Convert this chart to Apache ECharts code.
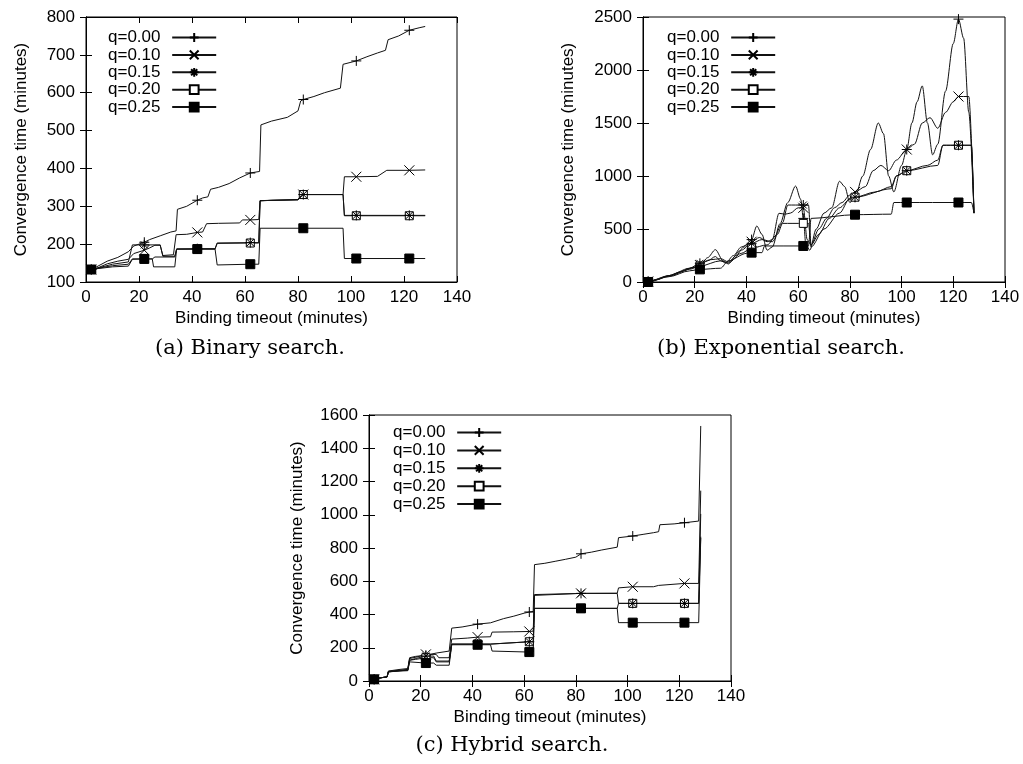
<!DOCTYPE html>
<html>
<head>
<meta charset="utf-8">
<script src="https://cdn.jsdelivr.net/npm/echarts@6/dist/echarts.min.js"></script>
<style>
  html, body { margin: 0; padding: 0; background: #fff; }
  #chart { width: 1023px; height: 764px; }
</style>
</head>
<body>
<div id="chart"></div>
<script>
// legend names, one per q value
var qNames = ['q=0.00', 'q=0.10', 'q=0.15', 'q=0.20', 'q=0.25'];
// points that carry a marker (every 20 minutes, from 2)
var markX = [2, 22, 42, 62, 82, 102, 122];

// (a) Binary search  [binding timeout, convergence time]
var binQ000 = [[0,130],[2,133],[4,140],[8,155],[12,165],[16,180],[18,195],[20,200],[22,205],[24,212],[28,222],[32,232],[34,235],[34.5,292],[38,300],[42,316],[44,322],[46,325],[47,345],[50,350],[54,360],[58,375],[62,388],[65.5,392],[66,515],[70,525],[76,535],[80,552],[81,578],[82,582],[86,590],[90,600],[96,612],[97,675],[102,684],[106,695],[110,705],[113,712],[114,740],[118,750],[122,765],[126,772],[128,775]];
var binQ010 = [[0,133],[2,133],[4,136],[8,148],[12,155],[16,160],[18,175],[22,184],[24,190],[26,197],[28,197],[29,170],[33,172],[34,225],[38,226],[42,231],[44,232],[45.5,254],[50,255],[58,256],[59,264],[62,264],[65.2,265],[65.7,314],[70,316],[80,318],[81.5,331],[82,331],[90,331],[97,331],[97.5,378],[102,378],[110,379],[113.5,395],[122,395],[128,396]];
var binQ015 = [[0,133],[2,133],[5,138],[10,147],[16,153],[17.5,198],[22,198],[28,198],[29,168],[33.5,168],[34.2,187],[42,188],[48.7,188],[49.5,203],[62,204],[65.2,204],[65.7,315],[80,317],[81.5,331],[82,331],[97,331],[97.5,276],[102,276],[122,276],[128,276]];
var binQ020 = [[0,133],[2,133],[5,137],[10,143],[16,147],[17.5,161],[22,161],[25,161],[26,166],[33.5,166],[34.2,187],[42,187],[48.7,187],[49.5,202],[62,203],[65.2,203],[65.7,315],[80,317],[81.5,331],[82,331],[97,331],[97.5,275],[102,275],[122,275],[128,275]];
var binQ025 = [[0,133],[2,133],[4,135],[10,140],[16,142],[17.5,160],[22,161],[25,161],[25.5,140],[33.5,140],[34.2,187],[42,187],[48.7,187],[49.5,145],[62,147],[65.2,147],[65.7,242],[82,242],[97,242],[97.5,162],[102,162],[122,162],[128,162]];

// (b) Exponential search
var expQ000 = [[0,0],[2,5],[5,20],[10,60],[14,90],[18,130],[22,150],[25,230],[28,305],[31,200],[33,170],[36,250],[39,330],[42,400],[44,528],[46,450],[48,300],[50,330],[53,550],[56,750],[59,905],[61,780],[62,600],[63,350],[64.5,300],[67,500],[70,650],[73,700],[76,950],[78,900],[80,750],[82,800],[85,1000],[88,1250],[91,1500],[93,1400],[95,1000],[97,850],[100,1100],[102,1250],[104,1500],[106,1700],[108,1850],[110,1500],[112,1200],[114,1300],[117,1800],[120,2250],[122,2480],[124,2300],[126,1600],[128,650]];
var expQ010 = [[0,0],[2,5],[5,20],[10,60],[15,100],[20,140],[22,160],[25,200],[28,240],[30,200],[32,180],[35,250],[38,330],[41,360],[42,380],[45,420],[48,380],[50,400],[52.6,648],[55,640],[57,650],[60,700],[62,700],[63.5,400],[65,350],[68,500],[71,600],[74,700],[77,750],[80,820],[82,850],[86,900],[89,1050],[92,1100],[95,1050],[98,1150],[102,1250],[105,1300],[108,1500],[111,1550],[114,1450],[117,1600],[120,1700],[122,1750],[126,1750],[128,650]];
var expQ015 = [[0,0],[2,5],[10,60],[18,130],[22,176],[26,210],[30,220],[33,190],[38,300],[42,365],[46,400],[50,380],[54,560],[56,726],[62,726],[64,726],[65,350],[68,450],[72,600],[76,700],[80,780],[82,800],[90,850],[96,900],[98,1000],[102,1050],[110,1100],[114,1150],[116,1290],[122,1290],[127,1290],[128,650]];
var expQ020 = [[0,0],[2,5],[10,55],[18,120],[22,150],[30,200],[33,180],[38,270],[42,320],[48,350],[52,450],[54,553],[62,553],[64,553],[65,330],[70,500],[76,650],[80,790],[82,800],[96,880],[98,1000],[102,1050],[114,1100],[116,1290],[122,1290],[127,1290],[128,650]];
var expQ025 = [[0,0],[2,0],[10,50],[18,105],[22,119],[30,130],[33,200],[40,270],[42,277],[46,277],[47,340],[62,340],[64,340],[65,600],[82,635],[96,640],[97,750],[102,750],[122,750],[127,750],[128,650]];

// (c) Hybrid search
var hybQ000 = [[0,5],[2,10],[4,18],[7,25],[7.5,60],[12,70],[15,75],[15.7,140],[18,148],[22,155],[26,168],[31,180],[32,318],[36,325],[42,342],[47,350],[47.6,362],[52,375],[56,390],[60,408],[62,415],[63.5,418],[64,700],[68,708],[72,720],[76,732],[80,745],[82,765],[86,775],[90,788],[96,805],[96.5,862],[102,872],[106,882],[110,892],[112,898],[112.5,940],[118,945],[122,952],[127.5,962],[128.3,1534]];
var hybQ010 = [[0,5],[2,10],[4,18],[7,25],[7.5,58],[12,65],[15,70],[15.7,135],[20,150],[22,160],[26,160],[27,140],[31,140],[32,252],[38,258],[42,264],[47,266],[47.6,294],[56,296],[62,298],[63.5,300],[64,520],[82,527],[96,528],[96.5,560],[102,567],[110,567],[112,575],[112.5,587],[122,587],[127.5,587],[128.3,1145]];
var hybQ015 = [[0,5],[2,10],[4,18],[7,25],[7.5,55],[12,62],[15,65],[15.7,125],[18,135],[22,150],[25,150],[26,120],[31,120],[32,222],[42,222],[47,222],[47.6,234],[62,236],[63.5,236],[64,515],[82,527],[96,527],[96.5,467],[102,467],[122,467],[127.5,467],[128.3,1005]];
var hybQ020 = [[0,5],[2,10],[4,18],[7,25],[7.5,55],[12,62],[15,65],[15.7,125],[18,130],[22,140],[25,140],[26,115],[31,115],[32,222],[42,222],[47,222],[47.6,234],[62,236],[63.5,236],[64,437],[82,437],[96,437],[96.5,467],[102,467],[122,467],[127.5,467],[128.3,868]];
var hybQ025 = [[0,5],[2,10],[4,18],[7,25],[7.5,55],[12,60],[15,62],[15.7,115],[22,108],[25,108],[26,95],[31,95],[32,218],[42,218],[47,218],[47.6,180],[62,174],[63.5,174],[64,437],[82,437],[96,437],[96.5,351],[102,351],[122,351],[127.5,351],[128.3,860]];

var panels = [
  { caption: '(a) Binary search.', series: [binQ000, binQ010, binQ015, binQ020, binQ025], yMin: 100, yMax: 800, yStep: 100, smooth: false },
  { caption: '(b) Exponential search.', series: [expQ000, expQ010, expQ015, expQ020, expQ025], yMin: 0, yMax: 2500, yStep: 500, smooth: 0.3 },
  { caption: '(c) Hybrid search.', series: [hybQ000, hybQ010, hybQ015, hybQ020, hybQ025], yMin: 0, yMax: 1600, yStep: 200, smooth: false }
];

// layout (px)
var grids = [
  { left: 86, top: 17, width: 371, height: 265 },
  { left: 643, top: 17, width: 362, height: 265 },
  { left: 369, top: 415, width: 362, height: 266 }
];
var yNameGap = [56, 66, 63];
var legendPos = [{ left: 103, top: 24 }, { left: 662, top: 24 }, { left: 388, top: 419 }];
var captionPos = [[250, 349], [781, 349], [512, 746]];

var SANS = 'Liberation Sans, Arial, sans-serif';
var FS = 17;
var symbols = [
  'path://M0,5L10,5M5,0L5,10',
  'path://M0,0L10,10M10,0L0,10',
  'path://M0,5L10,5M5,0L5,10M1.5,1.5L8.5,8.5M8.5,1.5L1.5,8.5',
  'rect',
  'rect'
];
var fills = ['#000', '#000', '#000', '#fff', '#000'];
var sizes = [10, 10, 10, 8, 9];
// asterisk over the open square, filled square on top of both
var zOrder = [2, 3, 5, 4, 6];

function toData(pts) {
  return pts.map(function (p) {
    return markX.indexOf(p[0]) >= 0 ? { value: p } : { value: p, symbol: 'none' };
  });
}
function plain(v) { return String(v); }

var xAxes = [], yAxes = [], series = [], legends = [], graphics = [];
panels.forEach(function (pan, g) {
  xAxes.push({
    gridIndex: g, type: 'value', min: 0, max: 140, interval: 20, position: 'bottom',
    name: 'Binding timeout (minutes)', nameLocation: 'middle', nameGap: 28,
    nameTextStyle: { fontFamily: SANS, fontSize: FS, color: '#000' },
    axisLine: { show: true, lineStyle: { color: '#000', width: 1 } },
    axisTick: { show: true, inside: true, length: 6, lineStyle: { color: '#000' } },
    axisLabel: { fontFamily: SANS, fontSize: FS, color: '#000', margin: 7, formatter: plain },
    splitLine: { show: false }
  });
  xAxes.push({
    gridIndex: g, type: 'value', min: 0, max: 140, interval: 20, position: 'top',
    axisLine: { show: true, lineStyle: { color: '#000', width: 1 } },
    axisTick: { show: true, inside: true, length: 6, lineStyle: { color: '#000' } },
    axisLabel: { show: false }, splitLine: { show: false }
  });
  yAxes.push({
    gridIndex: g, type: 'value', min: pan.yMin, max: pan.yMax, interval: pan.yStep, position: 'left',
    name: 'Convergence time (minutes)', nameLocation: 'middle', nameGap: yNameGap[g],
    nameTextStyle: { fontFamily: SANS, fontSize: FS, color: '#000' },
    axisLine: { show: true, lineStyle: { color: '#000', width: 1 } },
    axisTick: { show: true, inside: true, length: 6, lineStyle: { color: '#000' } },
    axisLabel: { fontFamily: SANS, fontSize: FS, color: '#000', margin: 11, formatter: plain },
    splitLine: { show: false }
  });
  yAxes.push({
    gridIndex: g, type: 'value', min: pan.yMin, max: pan.yMax, interval: pan.yStep, position: 'right',
    axisLine: { show: true, lineStyle: { color: '#000', width: 1 } },
    axisTick: { show: true, inside: true, length: 6, lineStyle: { color: '#000' } },
    axisLabel: { show: false }, splitLine: { show: false }
  });
  pan.series.forEach(function (pts, i) {
    series.push({
      name: qNames[i], type: 'line',
      xAxisIndex: g * 2, yAxisIndex: g * 2,
      data: toData(pts),
      symbol: symbols[i], symbolSize: sizes[i], showSymbol: true,
      smooth: pan.smooth, smoothMonotone: 'x',
      lineStyle: { color: '#111', width: 1 },
      itemStyle: { color: fills[i], borderColor: '#000', borderWidth: 1 },
      emphasis: { disabled: true },
      z: zOrder[i]
    });
  });
  legends.push({
    orient: 'vertical', left: legendPos[g].left, top: legendPos[g].top,
    align: 'right', itemWidth: 44, itemHeight: 11, itemGap: g === 2 ? 0.9 : 0.4,
    data: qNames, selectedMode: false,
    formatter: function (n) { return n + ' '; },
    textStyle: { fontFamily: SANS, fontSize: FS, color: '#000', lineHeight: 16, padding: [0, 2, 0, 0] }
  });
  graphics.push({
    type: 'text', x: captionPos[g][0], y: captionPos[g][1],
    style: {
      text: pan.caption, textAlign: 'center', textVerticalAlign: 'middle',
      font: '21px "DejaVu Serif", "Liberation Serif", serif', fill: '#000'
    }
  });
});

var chart = echarts.init(document.getElementById('chart'), null, { renderer: 'canvas' });
chart.setOption({
  animation: false,
  backgroundColor: '#fff',
  grid: grids.map(function (r) {
    return { left: r.left, top: r.top, width: r.width, height: r.height, show: true, borderColor: '#000', borderWidth: 1, backgroundColor: 'transparent' };
  }),
  xAxis: xAxes,
  yAxis: yAxes,
  legend: legends,
  series: series,
  graphic: graphics
});
</script>
</body>
</html>
